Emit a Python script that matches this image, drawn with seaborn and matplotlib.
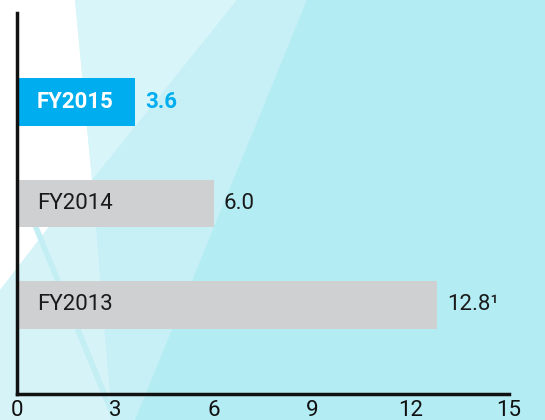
import matplotlib
matplotlib.use("Agg")
import matplotlib.pyplot as plt
import seaborn as sns
import pandas as pd

# data
years = ["FY2015", "FY2014", "FY2013"]
values = [3.6, 6.0, 12.8]
value_labels = ["3.6", "6.0", "12.8\u00b9"]
bar_colors = ["#00AEEF", "#CFD0D2", "#CFD0D2"]
x_ticks = [0, 3, 6, 9, 12, 15]

sns.set_style("white")
plt.rcParams["font.family"] = ["Roboto", "DejaVu Sans"]

fig = plt.figure(figsize=(5.45, 4.2), dpi=100)

# decorative background (pixel coords, y down)
bg = fig.add_axes([0, 0, 1, 1], zorder=0)
bg.set_xlim(0, 545)
bg.set_ylim(420, 0)
bg.axis("off")
bg.add_patch(plt.Rectangle((0, 0), 545, 420, color="#B4ECF4", lw=0))
bg.fill([237, 307, 135, 0, 0], [0, 0, 420, 420, 290], color="#C6F0F6", lw=0)
bg.fill([75, 237, 92], [0, 0, 180], color="#D8F6FA", lw=0)
bg.fill([0, 48, 92, 112, 0], [290, 228, 180, 420, 420], color="#D6F4F8", lw=0)
bg.fill([0, 75, 92, 48, 0], [0, 0, 180, 228, 290], color="#FFFFFF", lw=0)
bg.plot([35, 115], [225, 420], color="#C2EEF4", lw=4, solid_capstyle="butt")

ax = fig.add_axes([16.5 / 545, 26 / 420, (509 - 16.5) / 545, (394 - 13) / 420], zorder=1)
ax.patch.set_alpha(0)

df = pd.DataFrame({"year": years, "value": values})
sns.barplot(data=df, x="value", y="year", hue="year", order=years,
            palette=bar_colors, width=0.47, legend=False, saturation=1,
            linewidth=0, ax=ax)

ax.set_xlim(0, 15)
ax.set_ylim(2.877, -0.877)
ax.set_xticks(x_ticks)
ax.set_yticks([])
ax.set_xlabel("")
ax.set_ylabel("")
for s in ["top", "right"]:
    ax.spines[s].set_visible(False)
for s in ["left", "bottom"]:
    ax.spines[s].set_linewidth(2.5)
    ax.spines[s].set_color("#111111")
ax.tick_params(axis="x", direction="in", length=9, width=2.5, pad=4.5,
               labelsize=16, labelcolor="#111111", color="#111111")

for i, (yr, v, lab) in enumerate(zip(years, values, value_labels)):
    first = i == 0
    ax.annotate(yr, (0, i), xytext=(14.5, 0), textcoords="offset points",
                ha="left", va="center", fontsize=16,
                color="white" if first else "#1A1A1A",
                fontweight="bold" if first else "normal")
    ax.annotate(lab, (v, i), xytext=(7.5, 0), textcoords="offset points",
                ha="left", va="center", fontsize=16,
                color="#00AEEF" if first else "#1A1A1A",
                fontweight="bold" if first else "normal")

fig.savefig("out.png", dpi=100)
